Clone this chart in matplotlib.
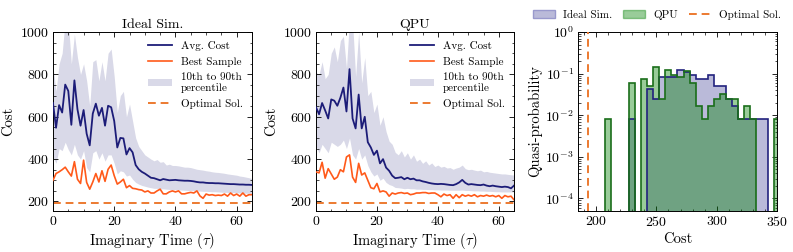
import numpy as np
import matplotlib
matplotlib.use("Agg")
import matplotlib.pyplot as plt
from matplotlib.ticker import AutoMinorLocator, LogLocator, NullFormatter
from matplotlib.patches import Patch
from matplotlib.lines import Line2D

plt.rcParams['font.family'] = 'serif'
plt.rcParams['font.serif'] = ['cmr10']
plt.rcParams['mathtext.fontset'] = 'cm'
plt.rcParams['axes.formatter.use_mathtext'] = True
plt.rcParams['axes.unicode_minus'] = False

# ---------------- data ----------------
tau = list(range(66))

ideal_avg = [665, 548, 655, 620, 752, 722, 562, 772, 635, 558, 632, 520, 465, 615, 662, 605,
             642, 558, 652, 645, 580, 455, 500, 498, 422, 452, 432, 372, 352, 340, 332, 322,
             312, 310, 305, 300, 306, 303, 300, 301, 302, 300, 299, 298, 298, 297, 295, 292,
             290, 290, 288, 287, 287, 286, 286, 285, 284, 283, 282, 282, 281, 280, 280, 279, 279, 278]
ideal_best = [300, 332, 340, 350, 362, 340, 320, 388, 305, 285, 395, 290, 258, 292, 332, 292,
              345, 295, 352, 372, 322, 282, 292, 305, 265, 275, 262, 260, 256, 254, 245, 250,
              240, 240, 250, 258, 236, 236, 245, 250, 245, 250, 236, 236, 240, 243, 240, 250,
              226, 215, 235, 230, 232, 228, 230, 228, 235, 225, 240, 228, 235, 225, 240, 225, 232, 232]
ideal_p90 = [840, 720, 850, 900, 1060, 1050, 850, 990, 880, 800, 850, 770, 650, 860, 870, 770,
             860, 770, 900, 920, 790, 620, 700, 720, 600, 660, 580, 500, 460, 440, 420, 410,
             400, 392, 398, 385, 388, 372, 376, 370, 370, 368, 365, 362, 362, 360, 356, 352,
             350, 348, 345, 343, 340, 338, 337, 335, 333, 330, 328, 326, 324, 320, 318, 315, 312, 308]
ideal_p10 = [410, 380, 450, 440, 480, 445, 420, 470, 420, 400, 440, 360, 340, 430, 440, 400,
             430, 390, 420, 420, 380, 330, 345, 340, 320, 325, 305, 290, 282, 276, 272, 268,
             265, 262, 262, 260, 260, 258, 257, 256, 256, 255, 254, 253, 252, 252, 251, 250,
             249, 248, 248, 247, 246, 246, 245, 244, 243, 243, 242, 242, 241, 240, 240, 239, 239, 238]

qpu_avg = [645, 612, 665, 630, 592, 682, 676, 652, 690, 738, 625, 825, 592, 545, 705, 545,
           600, 480, 455, 420, 440, 380, 400, 360, 345, 322, 310, 312, 315, 305, 312, 305,
           308, 300, 300, 295, 292, 288, 285, 283, 282, 283, 282, 280, 278, 277, 282, 290,
           302, 288, 280, 282, 280, 278, 277, 280, 275, 272, 275, 272, 270, 268, 270, 268, 262, 275]
qpu_best = [340, 335, 385, 310, 355, 330, 305, 315, 350, 340, 410, 420, 315, 290, 380, 325,
            335, 300, 265, 260, 285, 245, 250, 245, 225, 240, 235, 240, 242, 238, 240, 232,
            235, 240, 240, 242, 242, 238, 240, 240, 232, 222, 235, 228, 232, 215, 232, 218,
            232, 225, 230, 225, 232, 222, 228, 225, 230, 225, 228, 222, 228, 215, 228, 222, 225, 208]
qpu_p90 = [810, 800, 860, 780, 800, 900, 930, 860, 960, 980, 830, 1060, 1050, 790, 1000, 760,
           880, 700, 720, 620, 660, 560, 600, 530, 485, 470, 432, 420, 440, 410, 430, 400,
           420, 390, 400, 380, 392, 372, 382, 365, 372, 362, 366, 358, 360, 352, 358, 362,
           372, 355, 350, 352, 348, 345, 348, 340, 342, 338, 336, 334, 332, 330, 330, 328, 326, 325]
qpu_p10 = [460, 430, 470, 450, 430, 480, 470, 460, 470, 490, 450, 500, 420, 400, 450, 400,
           420, 370, 340, 320, 330, 300, 310, 290, 280, 275, 266, 265, 263, 260, 262, 260,
           260, 258, 258, 257, 257, 256, 256, 255, 255, 254, 254, 254, 253, 253, 253, 253,
           254, 252, 252, 251, 250, 250, 249, 249, 248, 248, 247, 246, 246, 245, 245, 245, 245, 245]

optimal_cost = 193

hist_edges = [207.5, 212.5, 217.5, 222.5, 227.5, 232.5, 237.5, 242.5, 247.5, 252.5, 257.5,
              262.5, 267.5, 272.5, 277.5, 282.5, 287.5, 292.5, 297.5, 302.5, 307.5, 312.5,
              317.5, 322.5, 327.5, 332.5, 337.5, 342.5, 347.5, 352.5]
hist_qpu = [0.0083, 0, 0, 0, 0.0583, 0, 0.075, 0.05, 0.1417, 0.025, 0.125, 0.0917, 0.0833,
            0.1167, 0.0583, 0.0167, 0.0083, 0.0167, 0.025, 0.0333, 0.025, 0.025, 0.0083,
            0.0167, 0.0083, 0, 0, 0, 0.0083]
hist_ideal = [0, 0, 0, 0, 0.0083, 0, 0, 0.0417, 0.025, 0.0833, 0.0833, 0.0833, 0.125, 0.1083,
              0.0917, 0.075, 0.075, 0.0917, 0.05, 0.05, 0.025, 0.0167, 0.0083, 0.0083, 0.0083,
              0.0083, 0.0083, 0, 0]

# ---------------- style ----------------
NAVY = '#1c1c78'
BAND = '#d9d9e8'
ORANGE = '#ff5a1a'
OPT = '#ec7a30'
HIST_P_FILL = (0.73, 0.73, 0.85)
HIST_G_FILL = (0.0, 0.5, 0.0, 0.4)
HIST_P_EDGE = '#22227e'
HIST_G_EDGE = '#1a6e1a'

fig = plt.figure(figsize=(7.93, 2.52), dpi=100)
ax1 = fig.add_axes([0.0668, 0.1627, 0.251, 0.710])
ax2 = fig.add_axes([0.3985, 0.1627, 0.2497, 0.710])
ax3 = fig.add_axes([0.7289, 0.1627, 0.2509, 0.710])


def style_ax(ax):
    ax.tick_params(which='both', direction='in', top=True, right=True, labelsize=10)
    ax.tick_params(which='major', length=3.5, width=0.6, pad=3)
    ax.tick_params(which='minor', length=1.8, width=0.5)
    for s in ax.spines.values():
        s.set_linewidth(0.7)


for ax, title, avg, best, p90, p10 in [
        (ax1, 'Ideal Sim.', ideal_avg, ideal_best, ideal_p90, ideal_p10),
        (ax2, 'QPU', qpu_avg, qpu_best, qpu_p90, qpu_p10)]:
    ax.fill_between(tau, p10, p90, color=BAND, lw=0, label='10th to 90th\npercentile', zorder=1)
    ax.plot(tau, avg, color=NAVY, lw=1.3, label='Avg. Cost', zorder=3)
    ax.plot(tau, best, color=ORANGE, lw=1.2, label='Best Sample', zorder=3)
    ax.axhline(optimal_cost, color=OPT, lw=1.4, ls=(0, (4, 2.5)), label='Optimal Sol.', zorder=2)
    ax.set_xlim(0, 65)
    ax.set_ylim(155, 1000)
    ax.set_xticks([0, 20, 40, 60])
    ax.set_yticks([200, 400, 600, 800, 1000])
    ax.xaxis.set_minor_locator(AutoMinorLocator(4))
    ax.yaxis.set_minor_locator(AutoMinorLocator(4))
    ax.set_title(title, fontsize=10, pad=3)
    ax.set_xlabel(r'Imaginary Time ($\tau$)', fontsize=10.5, labelpad=2)
    ax.set_ylabel('Cost', fontsize=10.5, labelpad=3)
    style_ax(ax)
    h, l = ax.get_legend_handles_labels()
    order = [l.index('Avg. Cost'), l.index('Best Sample'),
             l.index('10th to 90th\npercentile'), l.index('Optimal Sol.')]
    handles = [h[i] for i in order]
    handles[2] = Patch(facecolor=BAND, edgecolor='none')
    ax.legend(handles, [l[i] for i in order], loc='upper right', frameon=False,
              fontsize=8, handlelength=2.2, labelspacing=0.5, borderaxespad=0.4,
              handletextpad=0.8)

# histogram panel
ax3.stairs(hist_ideal, hist_edges, fill=True, color=HIST_P_FILL, baseline=1e-7, zorder=1)
ax3.stairs(hist_qpu, hist_edges, fill=True, color=HIST_G_FILL, baseline=1e-7, zorder=2)
ax3.stairs(hist_ideal, hist_edges, fill=False, color=HIST_P_EDGE, lw=1.2, baseline=1e-7, zorder=3)
ax3.stairs(hist_qpu, hist_edges, fill=False, color=HIST_G_EDGE, lw=1.2, baseline=1e-7, zorder=4)
ax3.axvline(optimal_cost, color=OPT, lw=1.4, ls=(0, (4, 2.5)), zorder=5)
ax3.set_yscale('log')
ax3.set_xlim(185, 350)
ax3.set_ylim(5e-5, 1)
ax3.set_xticks([200, 250, 300, 350])
ax3.xaxis.set_minor_locator(AutoMinorLocator(5))
ax3.yaxis.set_major_locator(LogLocator(base=10, numticks=10))
ax3.yaxis.set_minor_locator(LogLocator(base=10, subs=np.arange(2, 10), numticks=20))
ax3.yaxis.set_minor_formatter(NullFormatter())
ax3.set_xlabel('Cost', fontsize=10.5, labelpad=2)
ax3.set_ylabel('Quasi-probability', fontsize=10.5, labelpad=2)
style_ax(ax3)

leg_handles = [Patch(facecolor=HIST_P_FILL, edgecolor=(0.6, 0.6, 0.8)),
               Patch(facecolor=HIST_G_FILL, edgecolor=(0.0, 0.5, 0.0, 0.4)),
               Line2D([0], [0], color=OPT, lw=1.4, ls=(0, (4, 2.5)))]
ax3.legend(leg_handles, ['Ideal Sim.', 'QPU', 'Optimal Sol.'], loc='center',
           bbox_to_anchor=(0.828, 0.94), bbox_transform=fig.transFigure, ncol=3,
           frameon=False, fontsize=8, handlelength=2.0, columnspacing=1.0,
           handletextpad=0.7)

fig.savefig('out.png', dpi=100)
